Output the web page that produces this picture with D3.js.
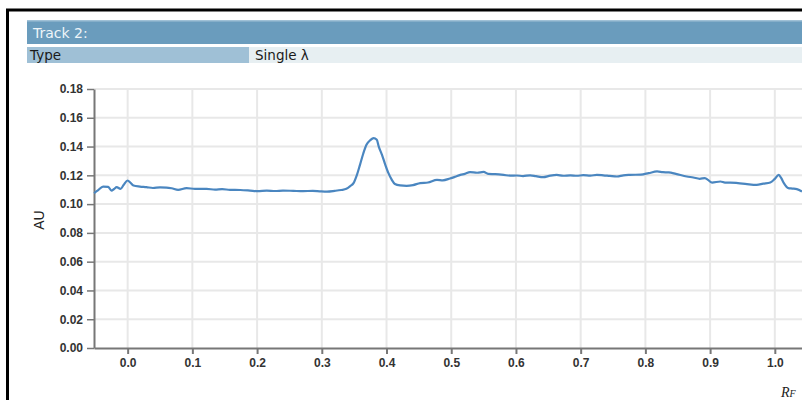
<!DOCTYPE html>
<html>
<head>
<meta charset="utf-8">
<script src="https://cdn.jsdelivr.net/npm/d3@7"></script>
<style>
  html, body { margin: 0; padding: 0; background: #fff; overflow: hidden; }
  svg { display: block; }
</style>
</head>
<body>
<svg id="chart" width="802" height="400"></svg>
<script>
// Track densitogram: retention factor (Rf) against absorbance (AU)
const trackTitle = "Track 2:";
const typeLabel = "Type";
const typeValue = "Single λ";

const rf = [
  -0.052, -0.046, -0.038, -0.030, -0.025, -0.021, -0.017, -0.011, -0.006, 0.000,
  0.004, 0.009, 0.019, 0.029, 0.039, 0.050, 0.060, 0.068, 0.078, 0.091,
  0.104, 0.122, 0.135, 0.146, 0.158, 0.174, 0.189, 0.201, 0.215, 0.228,
  0.240, 0.256, 0.271, 0.286, 0.297, 0.308, 0.320, 0.330, 0.338, 0.344,
  0.349, 0.354, 0.359, 0.364, 0.369, 0.375, 0.380, 0.385, 0.388, 0.393,
  0.398, 0.403, 0.408, 0.413, 0.421, 0.431, 0.441, 0.452, 0.464, 0.478,
  0.487, 0.498, 0.506, 0.514, 0.521, 0.529, 0.540, 0.550, 0.557, 0.568,
  0.581, 0.591, 0.601, 0.611, 0.622, 0.631, 0.642, 0.653, 0.663, 0.673,
  0.684, 0.694, 0.704, 0.715, 0.725, 0.735, 0.745, 0.756, 0.766, 0.776,
  0.793, 0.805, 0.818, 0.827, 0.836, 0.847, 0.864, 0.874, 0.884, 0.892,
  0.903, 0.916, 0.923, 0.931, 0.943, 0.957, 0.972, 0.982, 0.993, 1.000,
  1.006, 1.010, 1.014, 1.021, 1.027, 1.034, 1.042
];
const au = [
  0.1076, 0.1095, 0.1122, 0.1120, 0.1094, 0.1105, 0.1118, 0.1106, 0.1135, 0.1164,
  0.1150, 0.1129, 0.1122, 0.1118, 0.1112, 0.1116, 0.1115, 0.1110, 0.1099, 0.1111,
  0.1106, 0.1106, 0.1101, 0.1104, 0.1099, 0.1098, 0.1094, 0.1090, 0.1094, 0.1091,
  0.1094, 0.1092, 0.1090, 0.1092, 0.1089, 0.1087, 0.1092, 0.1098, 0.1106, 0.1125,
  0.1146, 0.1200, 0.1273, 0.1350, 0.1412, 0.1445, 0.1459, 0.1447, 0.1400, 0.1343,
  0.1275, 0.1215, 0.1170, 0.1140, 0.1130, 0.1127, 0.1132, 0.1146, 0.1150, 0.1169,
  0.1165, 0.1178, 0.1190, 0.1203, 0.1210, 0.1222, 0.1218, 0.1224, 0.1210, 0.1208,
  0.1203, 0.1198, 0.1199, 0.1195, 0.1200, 0.1194, 0.1187, 0.1198, 0.1203, 0.1197,
  0.1200, 0.1197, 0.1201, 0.1198, 0.1203, 0.1200, 0.1196, 0.1192, 0.1200, 0.1203,
  0.1205, 0.1215, 0.1227, 0.1222, 0.1220, 0.1210, 0.1192, 0.1185, 0.1176, 0.1181,
  0.1150, 0.1157, 0.1150, 0.1150, 0.1146, 0.1139, 0.1134, 0.1142, 0.1150, 0.1175,
  0.1203, 0.1180, 0.1146, 0.1111, 0.1108, 0.1104, 0.1087
];
const xTicks = [0.0, 0.1, 0.2, 0.3, 0.4, 0.5, 0.6, 0.7, 0.8, 0.9, 1.0];
const yTicks = [0.00, 0.02, 0.04, 0.06, 0.08, 0.10, 0.12, 0.14, 0.16, 0.18];

const svg = d3.select("#chart");
const W = 802;

// Outer panel frame
svg.append("rect")
  .attr("x", 7.5).attr("y", 10)
  .attr("width", 900).attr("height", 500)
  .attr("fill", "none").attr("stroke", "#000").attr("stroke-width", 3);

// Header bar
svg.append("rect").attr("x", 27).attr("y", 20).attr("width", W - 27).attr("height", 24)
  .attr("fill", "#6a9cbd");
svg.append("rect").attr("x", 27).attr("y", 20).attr("width", W - 27).attr("height", 1.5)
  .attr("fill", "#9fc0d6");
svg.append("text").attr("x", 33).attr("y", 38)
  .attr("font-family", "DejaVu Sans, Verdana, sans-serif").attr("font-size", 14)
  .attr("fill", "#eef4f8").text(trackTitle);

// Type row
svg.append("rect").attr("x", 27).attr("y", 47).attr("width", 222).attr("height", 16)
  .attr("fill", "#9fc0d6");
svg.append("rect").attr("x", 249).attr("y", 47).attr("width", W - 249).attr("height", 16)
  .attr("fill", "#e7eff2");
svg.append("text").attr("x", 30).attr("y", 60)
  .attr("font-family", "DejaVu Sans, Verdana, sans-serif").attr("font-size", 13.5)
  .attr("fill", "#1a1a1a").text(typeLabel);
svg.append("text").attr("x", 255).attr("y", 60)
  .attr("font-family", "DejaVu Sans, Verdana, sans-serif").attr("font-size", 13.5)
  .attr("fill", "#1a1a1a").text(typeValue);

// Plot area
const plotLeft = 94, plotRight = W, plotTop = 89, plotBottom = 348;
const x = d3.scaleLinear().domain([-0.052, 1.042]).range([plotLeft, plotRight]);
const y = d3.scaleLinear().domain([0, 0.18]).range([plotBottom, plotTop]);

const plot = svg.append("g");

// Grid
plot.append("g").selectAll("line").data(xTicks).join("line")
  .attr("x1", d => x(d)).attr("x2", d => x(d))
  .attr("y1", plotTop).attr("y2", plotBottom)
  .attr("stroke", "#e8e8e8").attr("stroke-width", 2);
plot.append("g").selectAll("line").data(yTicks.filter(d => d > 0)).join("line")
  .attr("x1", plotLeft).attr("x2", plotRight)
  .attr("y1", d => y(d)).attr("y2", d => y(d))
  .attr("stroke", "#e8e8e8").attr("stroke-width", 2);

// Axes
const tickFont = g => g.selectAll("text")
  .attr("font-family", "Liberation Sans, Arial, sans-serif")
  .attr("font-size", 12).attr("font-weight", "bold").attr("fill", "#333");

const xAxis = plot.append("g").attr("transform", `translate(0,${plotBottom})`)
  .call(d3.axisBottom(x).tickValues(xTicks).tickFormat(d3.format(".1f"))
    .tickSize(6).tickSizeOuter(0).tickPadding(4));
xAxis.call(tickFont);
xAxis.select(".domain").attr("stroke", "#777").attr("stroke-width", 2);
xAxis.selectAll(".tick line").attr("stroke", "#777").attr("stroke-width", 2);

const yAxis = plot.append("g").attr("transform", `translate(${plotLeft},0)`)
  .call(d3.axisLeft(y).tickValues(yTicks).tickFormat(d3.format(".2f"))
    .tickSize(7).tickSizeOuter(0).tickPadding(4));
yAxis.call(tickFont);
yAxis.select(".domain").attr("stroke", "#777").attr("stroke-width", 2);
yAxis.selectAll(".tick line").attr("stroke", "#777").attr("stroke-width", 1.5);

// Axis titles
svg.append("text")
  .attr("transform", "translate(44,220) rotate(-90)")
  .attr("text-anchor", "middle")
  .attr("font-family", "Liberation Sans, Arial, sans-serif").attr("font-size", 14)
  .attr("fill", "#222").text("AU");

const rfLabel = svg.append("text").attr("x", 781).attr("y", 397)
  .attr("font-family", "Liberation Serif, Times New Roman, serif")
  .attr("font-style", "italic").attr("font-size", 14).attr("fill", "#222");
rfLabel.append("tspan").text("R");
rfLabel.append("tspan").attr("font-size", 10).text("F");

// Densitogram trace
const pts = rf.map((v, i) => [v, au[i]]);
plot.append("path")
  .datum(pts)
  .attr("fill", "none")
  .attr("stroke", "#4a86c0")
  .attr("stroke-width", 2.2)
  .attr("stroke-linejoin", "round")
  .attr("d", d3.line().x(d => x(d[0])).y(d => y(d[1])).curve(d3.curveMonotoneX));
</script>
</body>
</html>
